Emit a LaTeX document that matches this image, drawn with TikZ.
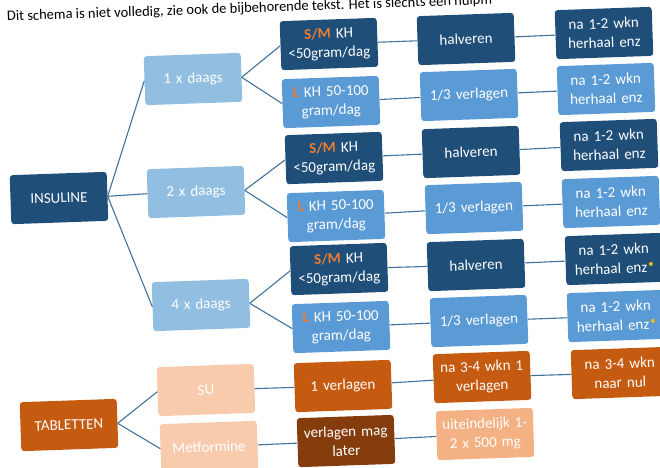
\documentclass[tikz,border=0pt]{standalone}
\usepackage{fontspec}
\setmainfont{Carlito}
\definecolor{insblue}{RGB}{31,78,121}
\definecolor{midblue}{RGB}{91,155,213}
\definecolor{lightblue}{RGB}{146,190,226}
\definecolor{tabbrown}{RGB}{197,90,17}
\definecolor{lightorange}{RGB}{248,203,173}
\definecolor{peach}{RGB}{244,177,131}
\definecolor{darkbrown}{RGB}{132,60,12}
\definecolor{linkblue}{RGB}{65,113,156}
\definecolor{smorange}{RGB}{237,125,49}
\definecolor{dotyellow}{RGB}{255,192,0}
\usetikzlibrary{positioning}
\tikzset{
x=1pt, y=-1pt, % pixel coordinates, y downwards
every edge/.style={draw, linkblue, line width=1.1pt}, % the connecting lines
box/.style={rectangle, rounded corners=3pt, minimum width=97pt, minimum height=49pt, text width=92pt, inner sep=1pt, align=center, text=white, font=\fontsize{15}{19}\selectfont, rotate=2}, % every block
}
\tikzset{
  dark/.append style={box, fill=insblue},
  mid/.append style={box, fill=midblue},
  light/.append style={box, fill=lightblue},
  tab/.append style={box, fill=tabbrown},
  pale/.append style={box, fill=lightorange},
  peachy/.append style={box, fill=peach},
  brown/.append style={box, fill=darkbrown}
}
\newcommand{\sm}{\textcolor{smorange}{\textbf{S/M}}}
\newcommand{\lkh}{\textcolor{smorange}{\textbf{L}}}
\newcommand{\ydot}{\kern1pt\raisebox{5pt}{\textcolor{dotyellow}{\fontsize{11}{11}\selectfont\textbullet}}}

\begin{document}
\begin{tikzpicture}
      \useasboundingbox (0,0) rectangle (660,467);
      \clip (0,0) rectangle (660,467);
      \node[anchor=base west, rotate=2, inner sep=0pt, font=\fontsize{14.5}{17}\selectfont] (note) at (7,21) {Dit schema is niet volledig, zie ook de bijbehorende tekst. Het is slechts een hulpm};

      \node[dark] (ins) at (59,198) {INSULINE};
      \node[light] (d1) at (193,79) {1 x daags};
      \node[light] (d2) at (196,192) {2 x daags};
      \node[light] (d4) at (201,305) {4 x daags};

      \node[dark] (sm1) at (329,44) {\sm{} KH\\<50gram/dag};
      \node[mid] (l1) at (331,102) {\lkh{} KH 50-100\\gram/dag};
      \node[dark] (hv1) at (466,39) {halveren};
      \node[mid] (dv1) at (469,95) {1/3 verlagen};
      \node[dark] (nh1) at (604,33) {na 1-2 wkn\\herhaal enz};
      \node[mid] (nl1) at (606,89) {na 1-2 wkn\\herhaal enz};

      \node[dark] (sm2) at (334,158) {\sm{} KH\\<50gram/dag};
      \node[mid] (l2) at (336,216) {\lkh{} KH 50-100\\gram/dag};
      \node[dark] (hv2) at (471,152) {halveren};
      \node[mid] (dv2) at (474,208) {1/3 verlagen};
      \node[dark] (nh2) at (609,145) {na 1-2 wkn\\herhaal enz};
      \node[mid] (nl2) at (611,202) {na 1-2 wkn\\herhaal enz};

      \node[dark] (sm4) at (339,269) {\sm{} KH\\<50gram/dag};
      \node[mid] (l4) at (341,327) {\lkh{} KH 50-100\\gram/dag};
      \node[dark] (hv4) at (476,265) {halveren};
      \node[mid] (dv4) at (479,321) {1/3 verlagen};
      \node[dark] (nh4) at (614,259) {na 1-2 wkn\\herhaal enz\ydot};
      \node[mid] (nl4) at (616,316) {na 1-2 wkn\\herhaal enz\ydot};

      \node[tab] (tab) at (69,425) {TABLETTEN};
      \node[pale] (su) at (206,390) {SU};
      \node[pale] (met) at (209,447) {Metformine};
      \node[tab] (v1) at (343,386) {1 verlagen};
      \node[brown] (later) at (346,441) {verlagen mag\\later};
      \node[tab] (w1) at (482,377) {na 3-4 wkn 1\\verlagen};
      \node[peachy] (uit) at (485,434) {uiteindelijk 1-\\2 x 500 mg};
      \node[tab] (nul) at (620,373) {na 3-4 wkn\\naar nul};

      \draw (ins.east) edge (d1.west)
      (ins.east) edge (d2.west)
      (ins.east) edge (d4.west)
      (d1.east) edge (sm1.west)
      (d1.east) edge (l1.west)
      (d2.east) edge (sm2.west)
      (d2.east) edge (l2.west)
      (d4.east) edge (sm4.west)
      (d4.east) edge (l4.west)
      (sm1) edge (hv1) (hv1) edge (nh1)
      (l1) edge (dv1) (dv1) edge (nl1)
      (sm2) edge (hv2) (hv2) edge (nh2)
      (l2) edge (dv2) (dv2) edge (nl2)
      (sm4) edge (hv4) (hv4) edge (nh4)
      (l4) edge (dv4) (dv4) edge (nl4)
      (tab.east) edge (su.west)
      (tab.east) edge (met.west)
      (su) edge (v1) (v1) edge (w1) (w1) edge (nul)
      (met) edge (later) (later) edge (uit);
    \end{tikzpicture}
\end{document}
